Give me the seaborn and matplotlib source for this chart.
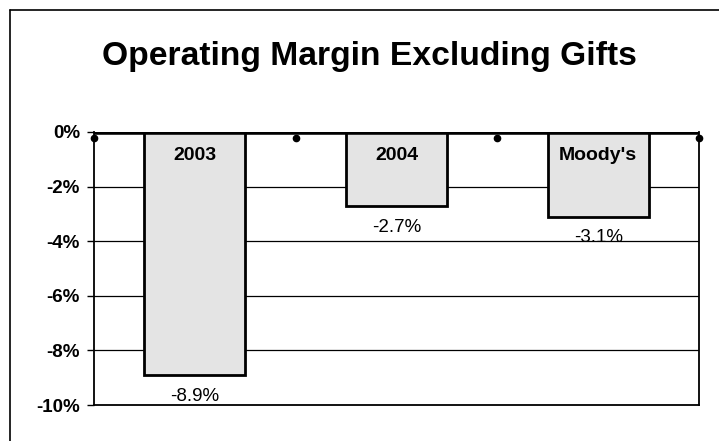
import matplotlib
matplotlib.use("Agg")
import matplotlib.pyplot as plt
import seaborn as sns
import pandas as pd
from matplotlib.lines import Line2D

categories = ["2003", "2004", "Moody's"]
values = [-8.9, -2.7, -3.1]
value_labels = ["-8.9%", "-2.7%", "-3.1%"]
yticks = [0, -2, -4, -6, -8, -10]
ytick_labels = ["0%", "-2%", "-4%", "-6%", "-8%", "-10%"]
title = "Operating Margin Excluding Gifts"

sns.set_style("white")
plt.rcParams['font.family'] = ['Liberation Sans', 'DejaVu Sans']
plt.rcParams['text.color'] = 'black'
plt.rcParams['ytick.color'] = 'black'
plt.rcParams['xtick.color'] = 'black'

df = pd.DataFrame({"cat": categories, "val": values})

fig = plt.figure(figsize=(7.19, 4.41), dpi=100)
ax = fig.add_axes([94/719, 1-405/441, (699-94)/719, (405-132)/441])

sns.barplot(data=df, x="cat", y="val", order=categories, color="#e4e4e4",
            edgecolor="black", linewidth=2, width=0.5, ax=ax, zorder=3, saturation=1)

ax.set_xlim(-0.5, 2.5)
ax.set_ylim(-10, 0)
ax.set_xlabel("")
ax.set_ylabel("")

# grid lines
for y in yticks[1:-1]:
    ax.axhline(y, color="black", lw=0.9, zorder=1)
ax.axhline(0, color="black", lw=4, zorder=5)

for s in ["left", "right", "bottom"]:
    ax.spines[s].set_color("black")
    ax.spines[s].set_linewidth(1.3)
ax.spines["top"].set_visible(False)

ax.set_yticks(yticks)
ax.set_yticklabels(ytick_labels, fontsize=13.5, fontweight="bold", color="black")
ax.tick_params(axis="y", length=5, width=1, color="black", pad=5, left=True)

ax.set_xticks([-0.5, 0.5, 1.5, 2.5])
ax.set_xticklabels([])
ax.tick_params(axis="x", bottom=False)
# small dots on zero line at category boundaries
ax.plot([-0.5, 0.5, 1.5, 2.5], [-0.22] * 4, "o", color="black", ms=4.5,
        zorder=6, clip_on=False)

for i, (c, v, lab) in enumerate(zip(categories, values, value_labels)):
    ax.text(i, -0.85, c, ha="center", va="center", fontsize=14,
            fontweight="bold", color="black", zorder=7)
    ax.text(i, v - 0.78, lab, ha="center", va="center", fontsize=13.5,
            color="black", zorder=7)

fig.text(369/719, 1-56/441, title, ha="center", va="center",
         fontsize=24.2, fontweight="bold", color="black")

# outer frame
fig.add_artist(Line2D([10/719, 10/719], [0, 1-10/441], color="black", lw=1.2,
                      transform=fig.transFigure))
fig.add_artist(Line2D([10/719, 1], [1-10/441, 1-10/441], color="black", lw=1.2,
                      transform=fig.transFigure))

fig.savefig("out.png", dpi=100)
